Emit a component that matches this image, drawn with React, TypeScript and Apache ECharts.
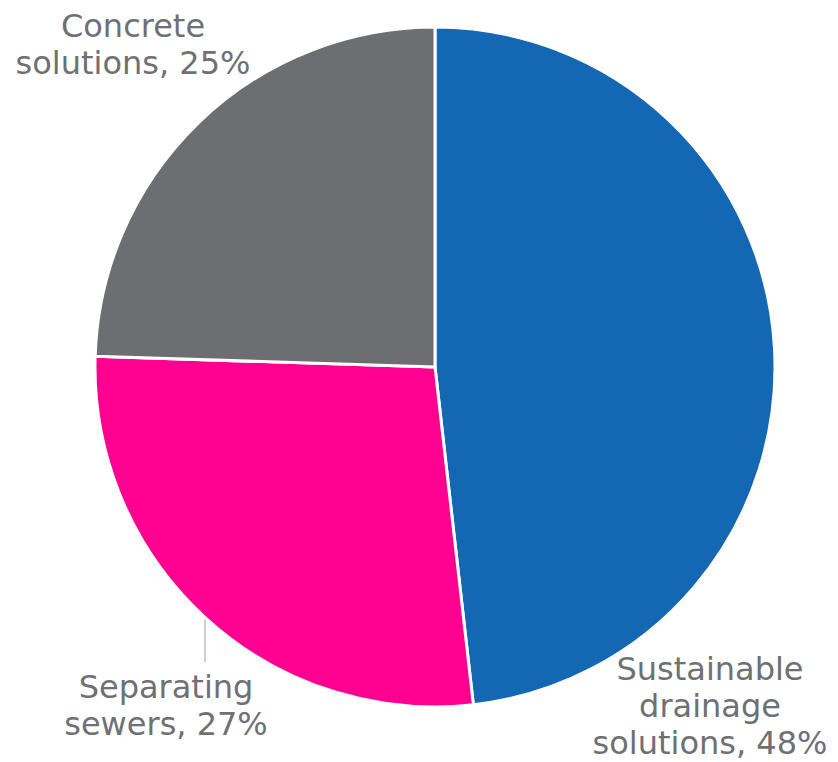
import React, { useEffect, useRef } from "react";
import * as echarts from "echarts";

const categories = ["Sustainable\ndrainage\nsolutions", "Separating\nsewers", "Concrete\nsolutions"];
const values = [48.2, 27.3, 24.5];
const colors = ["#1467B3", "#FF0091", "#6D6E71"];

export default function App() {
  const ref = useRef<HTMLDivElement>(null);
  useEffect(() => {
    document.body.style.margin = "0";
    const chart = echarts.init(ref.current!, undefined, { renderer: "svg" });
    const labelSpots = [
      { x: 710, y: 706 },
      { x: 166, y: 705 },
      { x: 133, y: 44 },
    ];
    chart.setOption({
      animation: false,
      series: [
        {
          type: "pie",
          center: [435, 367],
          radius: 340,
          startAngle: 90,
          clockwise: true,
          avoidLabelOverlap: false,
          data: categories.map((name, i) => ({
            name,
            value: values[i],
            itemStyle: { color: colors[i] },
            labelLine: { show: i === 1 },
          })),
          itemStyle: { borderColor: "#ffffff", borderWidth: 3 },
          label: {
            show: true,
            position: "outside",
            color: "#6F7073",
            fontFamily: "DejaVu Sans",
            fontSize: 32,
            lineHeight: 37,
            align: "center",
            overflow: "none",
            width: 400,
            formatter: (p: any) => `${p.name}, ${Math.round(p.value)}%`,
          },
          labelLine: {
            lineStyle: { color: "#BFBFBF", width: 1.5 },
          },
          labelLayout: (params: any) => {
            const s = labelSpots[params.dataIndex];
            const out: any = {
              x: s.x,
              y: s.y,
              align: "center",
              verticalAlign: "middle",
              hideOverlap: false,
              moveOverlap: false,
            };
            if (params.dataIndex === 1) {
              out.labelLinePoints = [
                [205, 617],
                [205, 640],
                [205, 662],
              ];
            }
            return out;
          },
        },
      ],
    });
    return () => chart.dispose();
  }, []);
  return <div ref={ref} style={{ width: 838, height: 762 }} />;
}
